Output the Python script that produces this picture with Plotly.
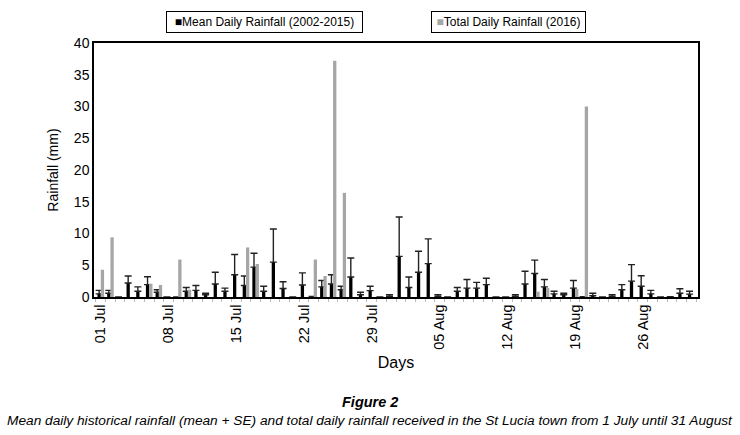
import plotly.graph_objects as go

days = list(range(1, 63))
mean_rain = [0.5, 0.6, 0.0, 2.2, 0.9, 1.95, 0.75, 0.0, 0.0, 0.9,
             1.05, 0.35, 2.05, 0.9, 3.5, 1.8, 4.7, 0.9, 5.5, 1.35,
             0.0, 1.9, 0.1, 1.6, 2.05, 1.15, 3.15, 0.35, 1.0, 0.0,
             0.1, 6.4, 1.5, 3.9, 5.25, 0.1, 0.0, 0.9, 1.4, 1.4,
             1.95, 0.0, 0.0, 0.1, 2.05, 3.7, 1.6, 0.5, 0.35, 1.4,
             0.05, 0.2, 0.0, 0.1, 1.15, 2.5, 1.7, 0.5, 0.0, 0.05,
             0.6, 0.45]
mean_se = [0.55, 0.45, None, 1.1, 0.7, 1.25, 0.4, None, None, 0.6,
           0.75, 0.25, 1.85, 0.5, 3.2, 1.5, 2.2, 0.8, 5.2, 1.05,
           None, 1.9, None, 1.0, 1.45, 0.55, 3.0, 0.4, 0.7, None,
           0.25, 6.2, 1.65, 3.3, 3.9, 0.25, None, 0.6, 1.35, 0.9,
           1.0, None, None, 0.25, 2.0, 2.1, 1.15, 0.4, 0.25, 1.2,
           None, 0.4, None, 0.25, 0.8, 2.6, 1.65, 0.55, None, None,
           0.7, 0.45]
total_2016 = [4.3, 9.4, 0, 0, 0, 2.1, 1.9, 0, 5.9, 1.15,
              0, 0, 0, 0, 0, 7.8, 5.2, 0, 0, 0,
              0, 0, 5.9, 3.3, 37.2, 16.4, 0, 0, 0, 0,
              0, 0, 0, 0, 0, 0, 0, 0, 0, 0,
              0, 0, 0, 0, 0, 0.85, 1.4, 0, 0, 1.25,
              30.0, 0, 0, 0, 0, 0, 0, 0, 0, 0,
              0, 0]
tick_days = [1, 8, 15, 22, 29, 36, 43, 50, 57]
tick_labels = ["01 Jul", "08 Jul", "15 Jul", "22 Jul", "29 Jul",
               "05 Aug", "12 Aug", "19 Aug", "26 Aug"]
series_names = ["Mean Daily Rainfall (2002-2015)", "Total Daily Rainfall (2016)"]
series_colors = ["#000000", "#a6a6a6"]

FONT = "Liberation Sans, Arial, sans-serif"
W, H = 740, 435

fig = go.Figure()
fig.add_trace(go.Bar(
    x=days, y=mean_rain, name=series_names[0],
    marker=dict(color=series_colors[0], line=dict(width=0)),
    error_y=dict(type="data", array=mean_se, symmetric=False,
                 arrayminus=[0] * len(days),
                 color="#222222", thickness=1.4, width=3.5),
    showlegend=False,
))
fig.add_trace(go.Bar(
    x=days, y=total_2016, name=series_names[1],
    marker=dict(color=series_colors[1], line=dict(width=0)),
    showlegend=False,
))

fig.update_layout(
    width=W, height=H,
    margin=dict(l=94, r=42, t=43, b=138, autoexpand=False),
    paper_bgcolor="white", plot_bgcolor="white",
    barmode="group", bargap=0.32, bargroupgap=0,
    font=dict(family=FONT, color="#000000"),
    showlegend=False,
    xaxis=dict(
        range=[0.3, 62.7],
        tickmode="array", tickvals=tick_days, ticktext=tick_labels,
        tickangle=-90, tickfont=dict(size=14.5, family=FONT),
        ticks="", showgrid=False, zeroline=False,
        showline=True, linecolor="#000000", linewidth=1.5, mirror=True,
        title=dict(text="Days", font=dict(size=16, family=FONT), standoff=8),
        minor=dict(tickmode="linear", tick0=0.5, dtick=1, ticks="outside",
                   ticklen=3, tickcolor="#bbbbbb", tickwidth=1),
    ),
    yaxis=dict(
        range=[0, 40], dtick=5, tickfont=dict(size=14, family=FONT),
        ticks="", showgrid=False, zeroline=False,
        showline=True, linecolor="#000000", linewidth=1.5, mirror=True,
        title=dict(text="Rainfall (mm)", font=dict(size=14, family=FONT), standoff=12),
    ),
)

# legend boxes (two separate framed keys, as in the reference)
legend_centers = [264.5, 508.5]
legend_widths = [189, 147]
for name, color, cx, w in zip(series_names, series_colors, legend_centers, legend_widths):
    fig.add_annotation(
        text=f"<span style='color:{color}'>■</span>{name}",
        xref="paper", yref="paper",
        x=(cx - 94) / 604, y=(297 - 22) / 254,
        xanchor="center", yanchor="middle", showarrow=False,
        width=w, height=14, align="center",
        font=dict(size=12, family=FONT, color="#000000"),
        bordercolor="#000000", borderwidth=1, borderpad=3, bgcolor="white",
    )

CAP_FONT = "Liberation Sans, Arial, sans-serif"
fig.add_annotation(
    text="<b><i>Figure 2</i></b>", xref="paper", yref="paper",
    x=(370 - 94) / 604, y=(297 - 402) / 254, xanchor="center", yanchor="middle",
    showarrow=False, font=dict(size=14.5, family=CAP_FONT),
)
fig.add_annotation(
    text="<i>Mean daily historical rainfall (mean + SE) and total daily rainfall received in the St Lucia town from 1 July until 31 August</i>",
    xref="paper", yref="paper",
    x=(370 - 94) / 604, y=(297 - 420) / 254, xanchor="center", yanchor="middle",
    showarrow=False, font=dict(size=13.7, family=CAP_FONT),
)

fig.write_html("out.html", config={"displayModeBar": False},
               post_script="document.body.style.margin='0px';document.body.style.padding='0px';")
